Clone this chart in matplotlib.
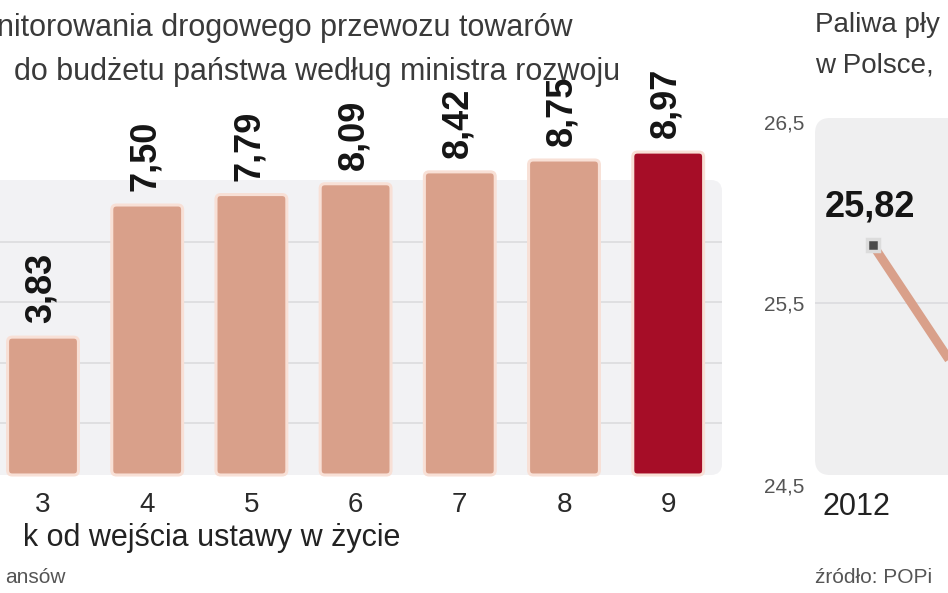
import numpy as np
import matplotlib.pyplot as plt
from matplotlib.patches import FancyBboxPatch
from matplotlib.transforms import ScaledTranslation

# Data: left panel (years since the law came into force, bln zl)
years_since = ["3", "4", "5", "6", "7", "8", "9"]
revenue = [3.83, 7.50, 7.79, 8.09, 8.42, 8.75, 8.97]

# Data: right panel (liquid fuels in Poland)
fuel_years = [2012, 2013]
fuel_values = [25.82, 24.95]
fuel_ticks = [24.5, 25.5, 26.5]

W, H = 948, 593
def fx(px):
    return px / W
def fy(px):
    return 1 - px / H

plt.rcParams['font.family'] = ['Liberation Sans', 'DejaVu Sans']

fig = plt.figure(figsize=(W / 100, H / 100), dpi=100)
fig.patch.set_facecolor('white')

bar_col = '#d9a08a'
hi_col = '#a60d27'
grid_col = '#dddde0'
bg_col = '#f2f2f4'

# ---- left panel: bars ----
ax = fig.add_axes([fx(-20), fy(475), fx(742), 295 / H])
ax.patch.set_visible(False)
ax.add_patch(FancyBboxPatch((0, 0), 1, 1, boxstyle="round,pad=0,rounding_size=0.015",
                            transform=ax.transAxes, fc=bg_col, ec='none', zorder=-2,
                            mutation_aspect=742 / 295))
x = np.arange(len(revenue))
ax.set_xlim((-20 - 43) / 104.2, (722 - 43) / 104.2)
ax.set_ylim(0, 295 / 36.0)

grid_levels = [1.45, 3.12, 4.8, 6.47]
for g in grid_levels:
    ax.axhline(g, color=grid_col, lw=1.3, zorder=0)

colors = [bar_col] * (len(revenue) - 1) + [hi_col]
bars = ax.bar(x, revenue, width=0.68, color=colors)
for rect, c in zip(bars, colors):
    xy = rect.get_xy()
    fb = FancyBboxPatch(xy, rect.get_width(), rect.get_height(),
                        boxstyle="round,pad=0,rounding_size=0.045", mutation_aspect=2.9,
                        fc=c, ec='#f8e0d6', lw=2.2, clip_on=False, zorder=2)
    ax.add_patch(fb)
    rect.remove()

# value labels, rotated, above the bars
for xi, v in zip(x, revenue):
    ax.text(xi - 0.02, v + 0.38, f"{v:.2f}".replace('.', ','), rotation=90,
            ha='center', va='bottom', fontsize=26, fontweight='bold',
            color='#151515', clip_on=False)

ax.set_xticks(x, years_since)
ax.set_yticks([])
ax.tick_params(axis='x', length=0, pad=12, labelsize=20, labelcolor='#2a2a2a')
for s in ax.spines.values():
    s.set_visible(False)

# ---- right panel: line ----
ax2 = fig.add_axes([fx(815), fy(485), fx(300), 367 / H])
ax2.patch.set_visible(False)
ax2.add_patch(FancyBboxPatch((0, 10 / 367), 1, 1 - 10 / 367,
                             boxstyle="round,pad=0,rounding_size=0.05",
                             transform=ax2.transAxes, fc='#efeff0', ec='none', zorder=-2,
                             mutation_aspect=300 / 357))
ax2.set_xlim(2012 - 58 / 105, 2012 + 242 / 105)
ax2.set_ylim(24.5, 26.52)
ax2.axhline(25.5, color=grid_col, lw=1.3, zorder=0)
ax2.plot(fuel_years, fuel_values, color=bar_col, lw=6.5, solid_capstyle='butt', zorder=2)
ax2.plot(fuel_years, fuel_values, 's', ms=8, mfc='#4a4a4a', mec='#dcdcdc', mew=2.5, zorder=3)
ax2.annotate(f"{fuel_values[0]:.2f}".replace('.', ','), (fuel_years[0], fuel_values[0]),
             xytext=(-2, 15), textcoords='offset points', ha='center', va='bottom',
             fontsize=26, fontweight='bold', color='#151515')

ax2.set_yticks(fuel_ticks, [f"{t:.1f}".replace('.', ',') for t in fuel_ticks])
ax2.set_xticks([fuel_years[0]], [str(fuel_years[0])])
ax2.tick_params(axis='y', length=0, pad=8, labelsize=15, labelcolor='#555555')
ax2.tick_params(axis='x', length=0, pad=5, labelsize=22, labelcolor='#222222')
shift = ScaledTranslation(-17 / 100, 0, fig.dpi_scale_trans)
for lab in ax2.get_xticklabels():
    lab.set_transform(lab.get_transform() + shift)
for s in ax2.spines.values():
    s.set_visible(False)

# ---- texts ----
fig.text(fx(-3), fy(36), "nitorowania drogowego przewozu towarów",
         fontsize=22, color='#3a3a3a', va='baseline', ha='left')
fig.text(fx(14), fy(80), "do budżetu państwa według ministra rozwoju",
         fontsize=22, color='#3a3a3a', va='baseline', ha='left')
fig.text(fx(815), fy(32), "Paliwa pły",
         fontsize=20, color='#3a3a3a', va='baseline', ha='left')
fig.text(fx(815), fy(72), "w Polsce,",
         fontsize=20, color='#3a3a3a', va='baseline', ha='left')
fig.text(fx(400), fy(546), "k od wejścia ustawy w życie", fontsize=22,
         color='#222222', va='baseline', ha='right')
fig.text(fx(66), fy(583), "ansów", fontsize=15,
         color='#555555', va='baseline', ha='right')
fig.text(fx(815), fy(583), "źródło: POPi", fontsize=15,
         color='#555555', va='baseline', ha='left')

plt.savefig('out.png', dpi=100)
plt.close('all')
